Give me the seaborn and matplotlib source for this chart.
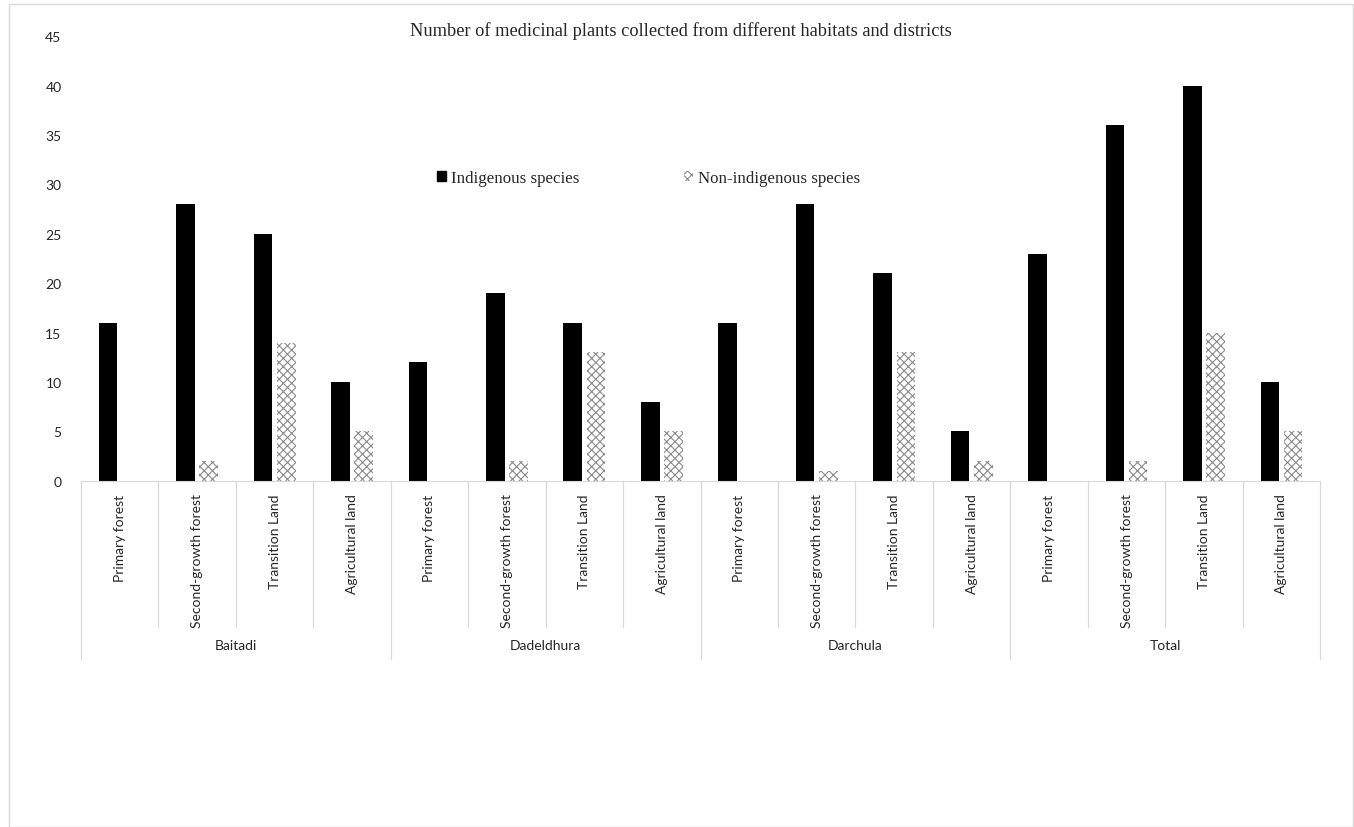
import numpy as np
import pandas as pd
import matplotlib
matplotlib.use("Agg")
import matplotlib.pyplot as plt
import matplotlib.patches as mpatches
import matplotlib.transforms as mtransforms
import seaborn as sns

districts = ["Baitadi", "Dadeldhura", "Darchula", "Total"]
habitats = ["Primary forest", "Second-growth forest", "Transition Land", "Agricultural land"]
indigenous = [16, 28, 25, 10,
              12, 19, 16, 8,
              16, 28, 21, 5,
              23, 36, 40, 10]
non_indigenous = [0, 2, 14, 5,
                  0, 2, 13, 5,
                  0, 1, 13, 2,
                  0, 2, 15, 5]
series = ["Indigenous species", "Non-indigenous species"]

# long table, one key per district/habitat pair
keys = [f"{d}|{h}" for d in districts for h in habitats]
df = pd.DataFrame({
    "key": keys * 2,
    "value": indigenous + non_indigenous,
    "species": [series[0]] * len(keys) + [series[1]] * len(keys),
})

sns.set_style("white")
plt.rcParams["font.family"] = ["Lato", "DejaVu Sans"]
plt.rcParams["hatch.linewidth"] = 0.8

fig = plt.figure(figsize=(13.54, 8.28), dpi=100)
ax = fig.add_axes([0.0598, 0.418, 0.9152, 0.537])

sns.barplot(data=df, x="key", y="value", hue="species", order=keys,
            palette=["black", "white"], width=0.6, gap=0.2,
            linewidth=0, legend=False, ax=ax)

# wavy-ish fill for the non-indigenous bars
for bar in ax.containers[1]:
    bar.set_hatch("xxxx")
    bar.set_edgecolor("#8a8a8a")
    bar.set_linewidth(0)

ax.set_ylim(0, 45)
ax.set_yticks(range(0, 46, 5))
ax.set_xlim(-0.5, len(keys) - 0.5)
ax.set_xticks(range(len(keys)))
ax.set_xticklabels([k.split("|")[1] for k in keys], rotation=90, va="top",
                   fontsize=10)
ax.tick_params(axis="both", length=0, labelsize=10)
ax.tick_params(axis="x", pad=9)
ax.tick_params(axis="y", pad=14)
ax.set_xlabel("")
ax.set_ylabel("")
for s in ["top", "right", "left"]:
    ax.spines[s].set_visible(False)
ax.spines["bottom"].set_color("#d9d9d9")

# multi-level category axis
trans = mtransforms.blended_transform_factory(ax.transData, ax.transAxes)
for i in range(len(keys) + 1):
    bottom = -0.40 if i % 4 == 0 else -0.328
    ax.plot([i - 0.5, i - 0.5], [0, bottom], color="#d9d9d9", lw=0.9,
            transform=trans, clip_on=False)
for j, d in enumerate(districts):
    ax.text(j * 4 + 1.5, -0.37, d, transform=trans, ha="center", va="center",
            fontsize=10)

fig.text(0.503, 0.963, "Number of medicinal plants collected from different habitats and districts",
         ha="center", va="center", fontsize=13.2, family="Liberation Serif")

handles = [mpatches.Patch(facecolor="black", edgecolor="black"),
           mpatches.Patch(facecolor="white", edgecolor="#8a8a8a", hatch="xxxx", lw=0)]
ax.legend(handles, series, loc="center", bbox_to_anchor=(0.458, 0.681), ncol=2,
          frameon=False, handlelength=0.5, handleheight=0.5, handletextpad=0.3,
          columnspacing=6.2, prop={"family": "Liberation Serif", "size": 12.2})

# outer light border like the source image
fig.patches.append(mpatches.Rectangle((0.0066, 0.0), 0.9927, 0.994, transform=fig.transFigure,
                                      fill=False, edgecolor="#d9d9d9", lw=1))

fig.savefig("out.png", dpi=100)
